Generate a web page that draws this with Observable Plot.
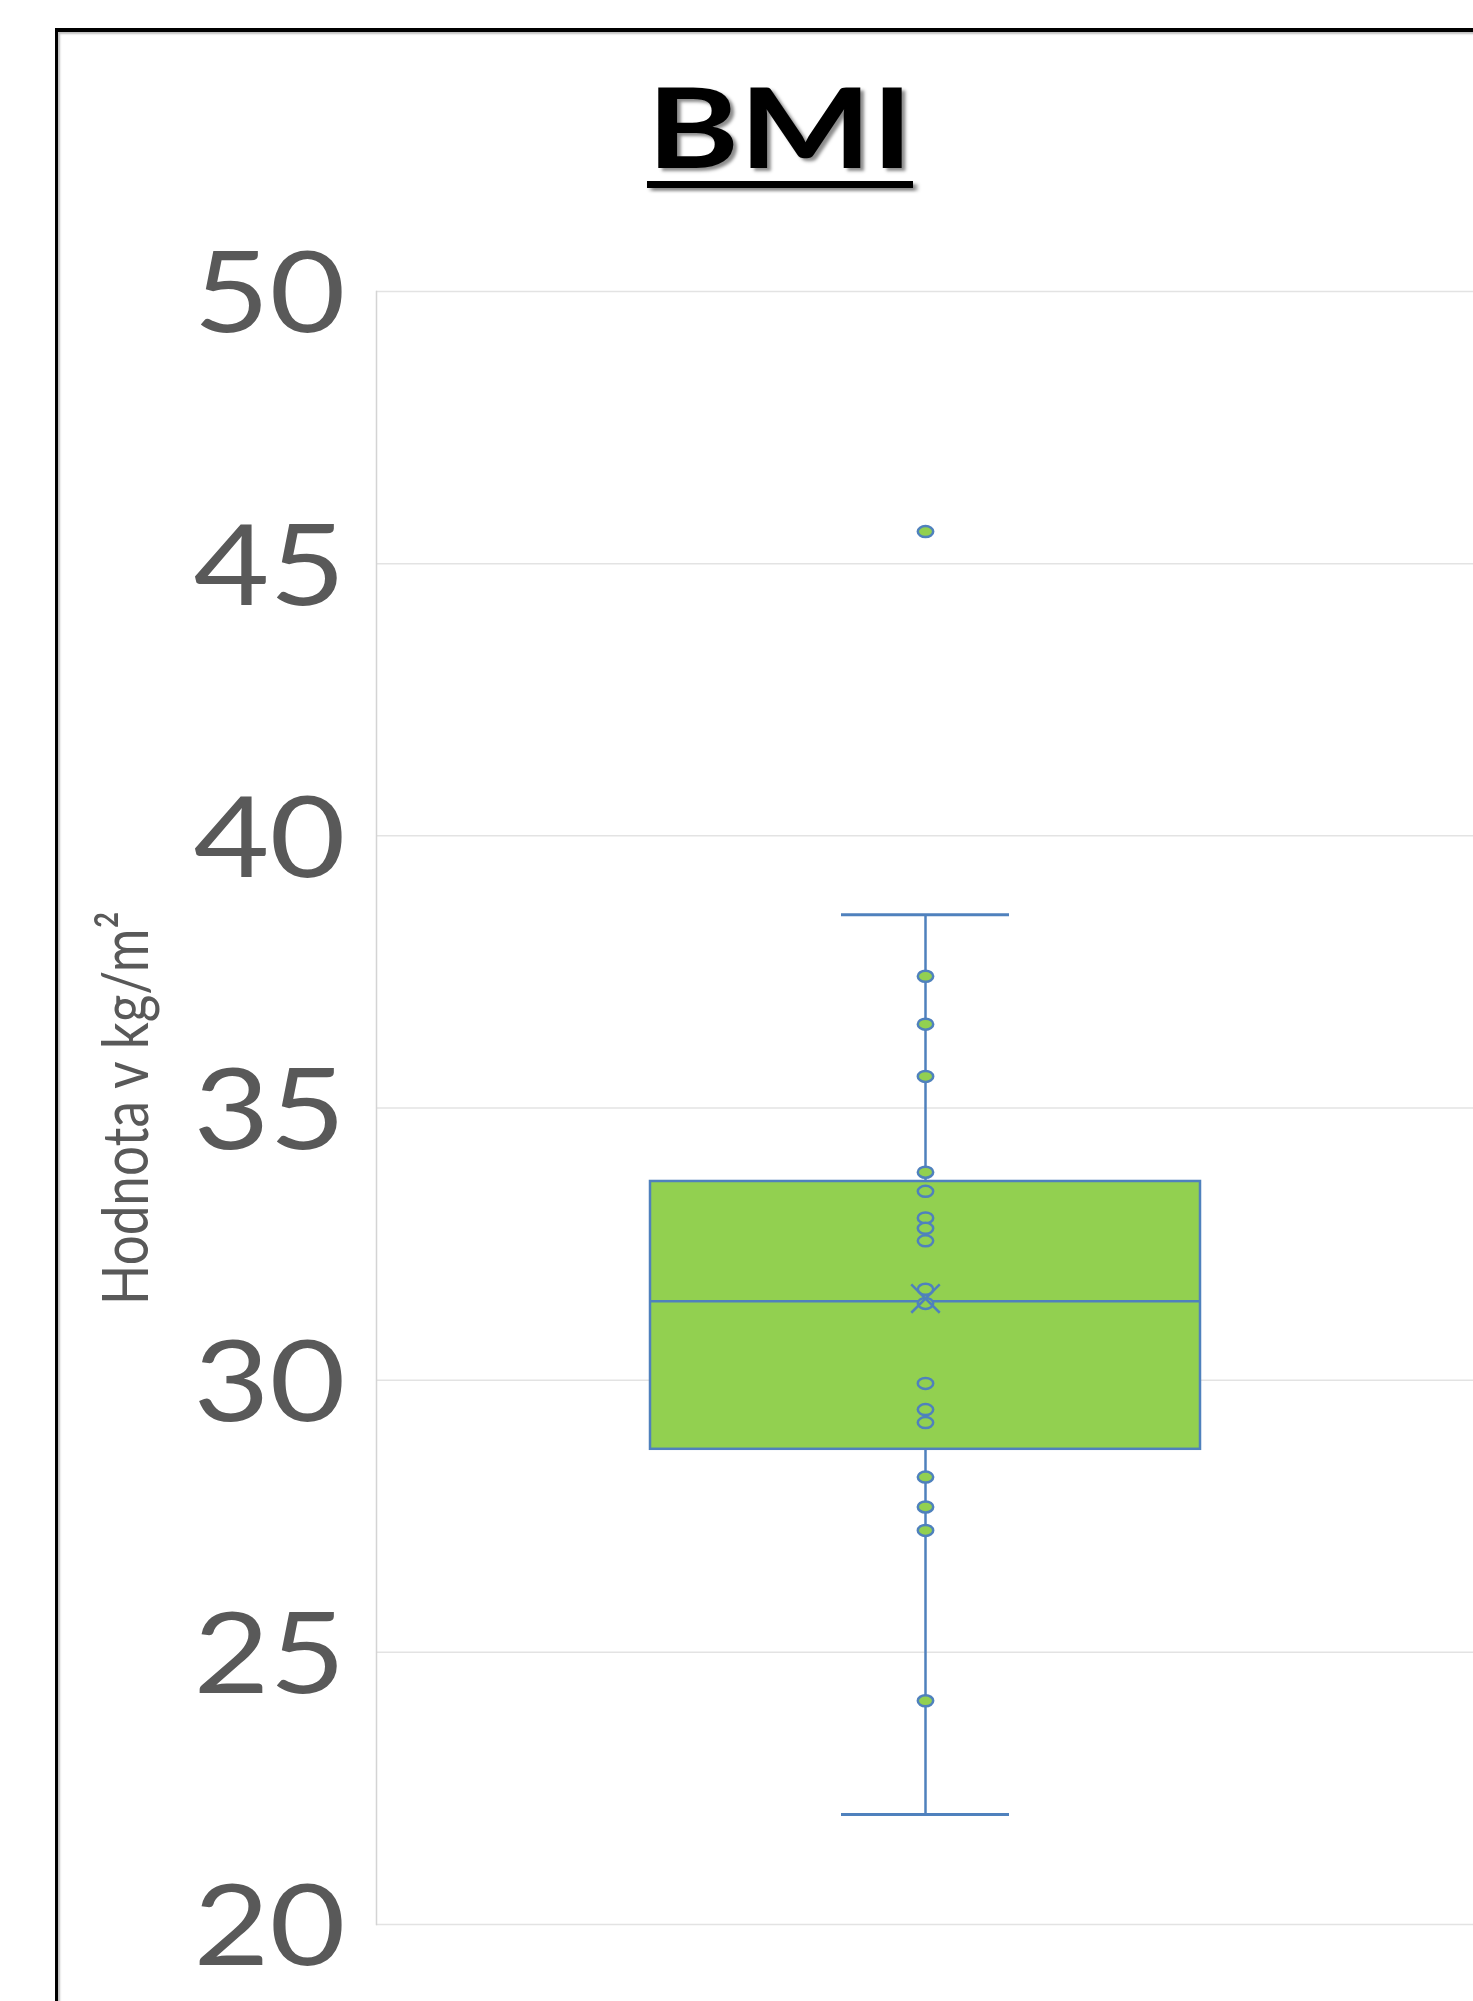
<!DOCTYPE html>
<html>
<head>
<meta charset="utf-8">
<script src="https://cdn.jsdelivr.net/npm/d3@7"></script>
<script src="https://cdn.jsdelivr.net/npm/@observablehq/plot@0.6"></script>
<style>
html, body { margin: 0; padding: 0; background: #fff; overflow: hidden; width: 1473px; height: 2001px; }
#border { position: absolute; left: 55px; top: 28px; width: 3000px; height: 3000px;
  border-left: 3px solid #000; border-top: 4px solid #000; box-shadow: 2px 2px 2px rgba(0,0,0,0.25) inset;
  pointer-events: none; z-index: 3; }
#title { position: absolute; left: 780px; top: 69px; transform: translateX(-50%) scaleX(1.25);
  font-family: Lato, "Open Sans", sans-serif; font-weight: 700; font-size: 112px; line-height: 1;
  color: #000; white-space: nowrap; text-decoration: underline; text-decoration-thickness: 7px;
  text-underline-offset: 13px; text-shadow: 3px 3px 3px rgba(0,0,0,0.45); z-index: 2; }
#chart { position: absolute; left: 0; top: 200px; }
</style>
</head>
<body>
<div id="border"></div>
<div id="title"></div>
<div id="chart"></div>
<script>
// ---- data ----
const title = "BMI";
const yLabel = "Hodnota v kg/m²";
const categories = ["BMI"];
const yTicks = [20, 25, 30, 35, 40, 45, 50];
const pointValues = [45.59, 37.42, 36.54, 35.58, 33.82, 33.47, 32.98, 32.79, 32.56, 31.67, 31.41, 29.94, 29.46, 29.22, 28.22, 27.67, 27.24, 24.11];
const q1 = [28.73];
const median = [31.45];
const q3 = [33.65];
const whiskerLow = [22.02];
const whiskerHigh = [38.55];
const mean = [31.50];

// ---- tables built from the arrays ----
const summary = categories.map((c, i) => ({
  cat: c, q1: q1[i], median: median[i], q3: q3[i], lo: whiskerLow[i], hi: whiskerHigh[i], mean: mean[i]
}));
const points = pointValues.map(v => ({cat: categories[0], value: v}));

const blue = "#4f81bd";
const green = "#92d050";

// ellipse-shaped marker (like the stretched Excel markers)
const ellipse = {
  draw(ctx, size) {
    const r = Math.sqrt(size / Math.PI);
    const rx = r * 1.4, ry = r, k = 0.5523;
    ctx.moveTo(rx, 0);
    ctx.bezierCurveTo(rx, ry * k, rx * k, ry, 0, ry);
    ctx.bezierCurveTo(-rx * k, ry, -rx, ry * k, -rx, 0);
    ctx.bezierCurveTo(-rx, -ry * k, -rx * k, -ry, 0, -ry);
    ctx.bezierCurveTo(rx * k, -ry, rx, -ry * k, rx, 0);
    ctx.closePath();
  }
};

document.getElementById("title").textContent = title;

const chart = Plot.plot({
  width: 1473,
  height: 1801,
  marginLeft: 376,
  marginRight: 0,
  marginTop: 91,
  marginBottom: 77,
  x: {domain: categories, padding: 0.332, axis: null},
  y: {domain: [20, 50], axis: null},
  style: {fontFamily: "Lato, 'Open Sans', sans-serif", background: "transparent", overflow: "visible"},
  marks: [
    Plot.gridY(yTicks, {stroke: "#e3e3e3", strokeOpacity: 1, strokeWidth: 1.5}),
    Plot.frame({anchor: "left", stroke: "#d4d4d4", strokeWidth: 1.5}),
    Plot.axisY(yTicks, {tickSize: 0, tickPadding: 31, dy: 5, fontSize: 112, fill: "#595959", label: null, tickFormat: d => String(d), className: "ytick"}),
    Plot.text([yLabel], {frameAnchor: "left", textAnchor: "middle", lineAnchor: "middle", dx: -249, rotate: -90, fontSize: 53, fill: "#595959", className: "ylabel"}),
    Plot.ruleX(summary, {x: "cat", y1: "lo", y2: "hi", stroke: blue, strokeWidth: 2.5}),
    Plot.tickY(summary, {x: "cat", y: "lo", insetLeft: 191, insetRight: 191, stroke: blue, strokeWidth: 3}),
    Plot.tickY(summary, {x: "cat", y: "hi", insetLeft: 191, insetRight: 191, stroke: blue, strokeWidth: 3}),
    Plot.barY(summary, {x: "cat", y1: "q1", y2: "q3", fill: green, stroke: blue, strokeWidth: 2.5}),
    Plot.tickY(summary, {x: "cat", y: "median", stroke: blue, strokeWidth: 2.5}),
    Plot.dot(points, {x: "cat", y: "value", symbol: ellipse, r: 5.5, fill: green, stroke: blue, strokeWidth: 2.5}),
    Plot.dot(summary, {x: "cat", y: "mean", symbol: "times", r: 13, stroke: blue, strokeWidth: 2.5})
  ]
});
// widen the glyphs a little, as in the (horizontally stretched) original picture
d3.select(chart).selectAll("g.ytick text").each(function() {
  const t = this.getAttribute("transform") || "";
  this.setAttribute("transform", t + " scale(1.17,1)");
});
d3.select(chart).selectAll("g.ylabel text").each(function() {
  const t = this.getAttribute("transform") || "";
  this.setAttribute("transform", t + " scale(1,1.22)");
});
document.getElementById("chart").appendChild(chart);
</script>
</body>
</html>
